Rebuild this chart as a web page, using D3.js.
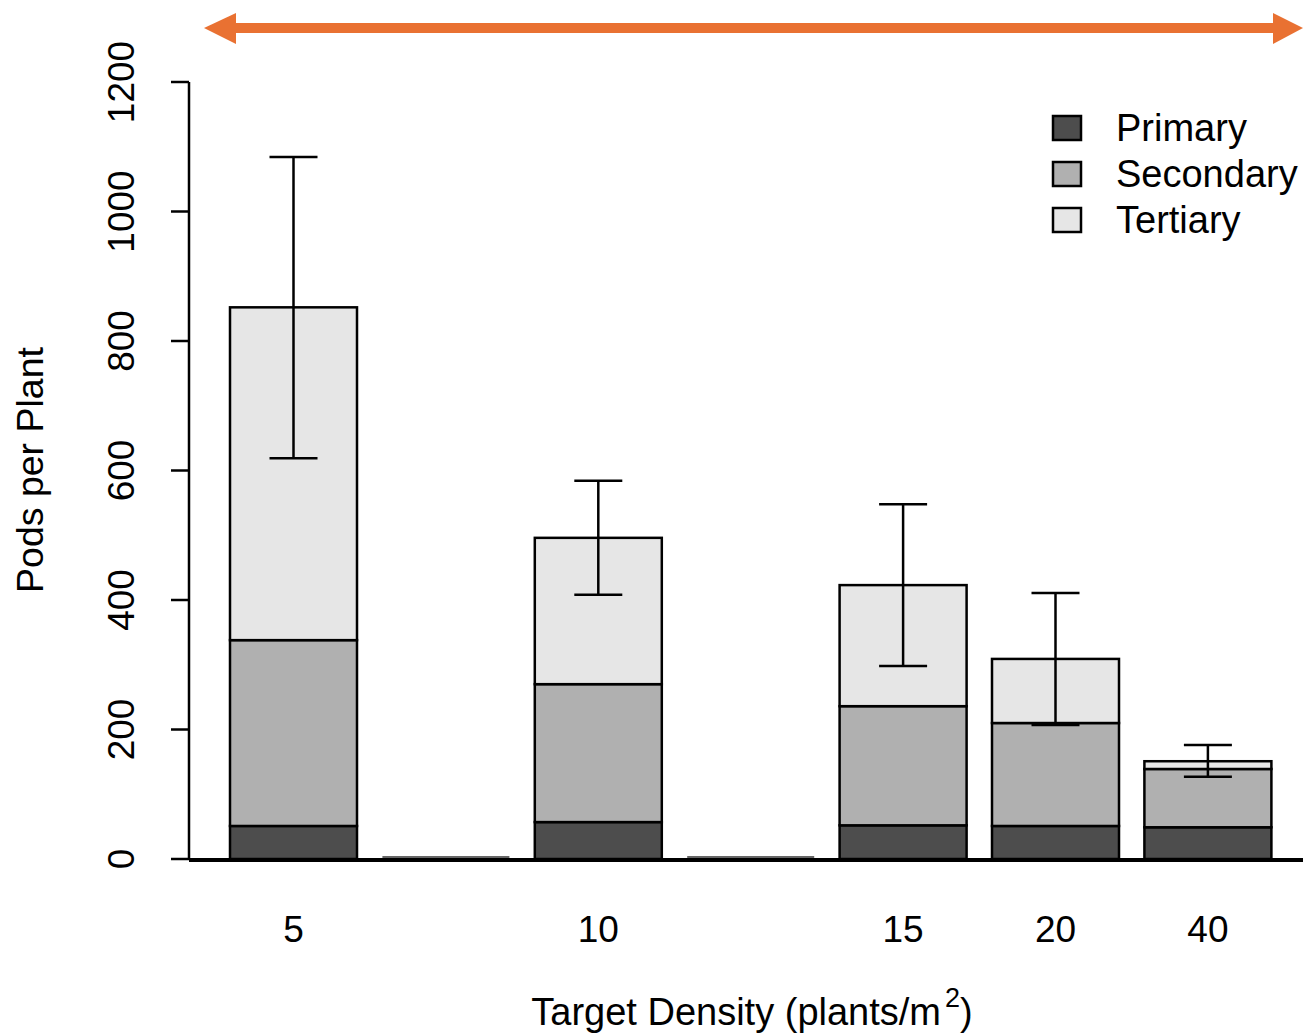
<!DOCTYPE html>
<html>
<head>
<meta charset="utf-8">
<script src="https://cdn.jsdelivr.net/npm/d3@7"></script>
<style>
  body { margin: 0; background: #fff; }
  text { font-family: "Liberation Sans", Arial, sans-serif; }
</style>
</head>
<body>
<svg id="chart" width="1303" height="1033"></svg>
<script>
// slots along the x axis; null = empty slot (drawn as a flat zero bar)
var densities = ["5", null, "10", null, "15", "20", "40"];
var primary   = [51, 0, 57, 0, 52, 51, 49];
var secondary = [287, 0, 213, 0, 184, 159, 90];
var tertiary  = [514, 0, 226, 0, 187, 99, 12];
var errLow    = [619, null, 408, null, 298, 207, 127];
var errHigh   = [1084, null, 584, null, 548, 411, 176];
var seriesNames = ["Primary", "Secondary", "Tertiary"];
var seriesColors = ["#4d4d4d", "#b0b0b0", "#e6e6e6"];
var yTicks = [0, 200, 400, 600, 800, 1000, 1200];

var svg = d3.select("#chart");

// R barplot style: bar width 1, space 0.2
var x = d3.scaleLinear().domain([0, 8.4]).range([204.6, 1271.4]);
var y = d3.scaleLinear().domain([0, 1200]).range([859, 82]);

var rows = densities.map(function (d, i) {
    return { label: d, p: primary[i], s: secondary[i], t: tertiary[i], lo: errLow[i], hi: errHigh[i], i: i };
});
var stacked = d3.stack().keys(["p", "s", "t"])(rows);

// baseline
svg.append("line")
    .attr("x1", 189).attr("x2", 1303)
    .attr("y1", y(0) + 1).attr("y2", y(0) + 1)
    .attr("stroke", "#000").attr("stroke-width", 4);

// empty slots: zero-height bars show as a thin edge on the baseline
svg.append("g").selectAll("line")
    .data(rows.filter(function (d) { return d.label === null; }))
    .enter()
    .append("line")
    .attr("x1", function (d) { return x(0.2 + 1.2 * d.i); })
    .attr("x2", function (d) { return x(1.2 + 1.2 * d.i); })
    .attr("y1", y(0) - 2).attr("y2", y(0) - 2)
    .attr("stroke", "#333").attr("stroke-width", 1.5);

// bars
svg.append("g").selectAll("g")
    .data(stacked)
    .enter()
    .append("g")
    .attr("fill", function (d, k) { return seriesColors[k]; })
    .selectAll("rect")
    .data(function (d) { return d.filter(function (s) { return s[1] > s[0]; }); })
    .enter()
    .append("rect")
    .attr("x", function (d) { return x(0.2 + 1.2 * d.data.i); })
    .attr("width", function () { return x(1) - x(0); })
    .attr("y", function (d) { return y(d[1]); })
    .attr("height", function (d) { return y(d[0]) - y(d[1]); })
    .attr("stroke", "#000")
    .attr("stroke-width", 2.5);

// error bars
var eb = svg.append("g")
    .attr("stroke", "#000")
    .attr("stroke-width", 2.5)
    .selectAll("g")
    .data(rows.filter(function (d) { return d.lo !== null; }))
    .enter()
    .append("g");
eb.append("line")
    .attr("x1", function (d) { return x(0.7 + 1.2 * d.i); })
    .attr("x2", function (d) { return x(0.7 + 1.2 * d.i); })
    .attr("y1", function (d) { return y(d.lo); })
    .attr("y2", function (d) { return y(d.hi); });
["lo", "hi"].forEach(function (key) {
    eb.append("line")
        .attr("x1", function (d) { return x(0.7 + 1.2 * d.i) - 24; })
        .attr("x2", function (d) { return x(0.7 + 1.2 * d.i) + 24; })
        .attr("y1", function (d) { return y(d[key]); })
        .attr("y2", function (d) { return y(d[key]); });
});

// y axis
var yAxis = svg.append("g").attr("transform", "translate(189,0)");
yAxis.append("line")
    .attr("x1", 0).attr("x2", 0)
    .attr("y1", y(0)).attr("y2", y(1200))
    .attr("stroke", "#000").attr("stroke-width", 2.5);
yAxis.selectAll(".tick")
    .data(yTicks)
    .enter()
    .append("line")
    .attr("x1", -18).attr("x2", 0)
    .attr("y1", function (d) { return y(d); })
    .attr("y2", function (d) { return y(d); })
    .attr("stroke", "#000").attr("stroke-width", 2.5);
yAxis.selectAll("text")
    .data(yTicks)
    .enter()
    .append("text")
    .attr("transform", function (d) { return "translate(-55," + y(d) + ") rotate(-90)"; })
    .attr("text-anchor", "middle")
    .attr("font-size", 37)
    .text(function (d) { return d; });

// x labels
svg.append("g").selectAll("text")
    .data(rows.filter(function (d) { return d.label !== null; }))
    .enter()
    .append("text")
    .attr("x", function (d) { return x(0.7 + 1.2 * d.i); })
    .attr("y", 942)
    .attr("text-anchor", "middle")
    .attr("font-size", 37)
    .text(function (d) { return d.label; });

// axis titles
var xt = svg.append("text")
    .attr("x", 752).attr("y", 1025)
    .attr("text-anchor", "middle")
    .attr("font-size", 38);
xt.append("tspan").text("Target Density (plants/m");
xt.append("tspan").attr("dy", -18).attr("dx", 4).attr("font-size", 27).text("2");
xt.append("tspan").attr("dy", 18).text(")");

svg.append("text")
    .attr("transform", "translate(43,470) rotate(-90)")
    .attr("text-anchor", "middle")
    .attr("font-size", 37.5)
    .text("Pods per Plant");

// legend
var leg = svg.append("g").selectAll("g")
    .data(seriesNames)
    .enter()
    .append("g")
    .attr("transform", function (d, k) { return "translate(1053," + (116 + 46 * k) + ")"; });
leg.append("rect")
    .attr("width", 28).attr("height", 24)
    .attr("fill", function (d, k) { return seriesColors[k]; })
    .attr("stroke", "#000").attr("stroke-width", 2.5);
leg.append("text")
    .attr("x", 63).attr("y", 25)
    .attr("font-size", 38)
    .text(function (d) { return d; });

// orange double arrow
var orange = "#e97132";
svg.append("line")
    .attr("x1", 230).attr("x2", 1280)
    .attr("y1", 28).attr("y2", 28)
    .attr("stroke", orange).attr("stroke-width", 10);
svg.append("path")
    .attr("d", "M204,28 L236,13 L236,44 Z")
    .attr("fill", orange);
svg.append("path")
    .attr("d", "M1303,28 L1273,13 L1273,44 Z")
    .attr("fill", orange);
</script>
</body>
</html>
